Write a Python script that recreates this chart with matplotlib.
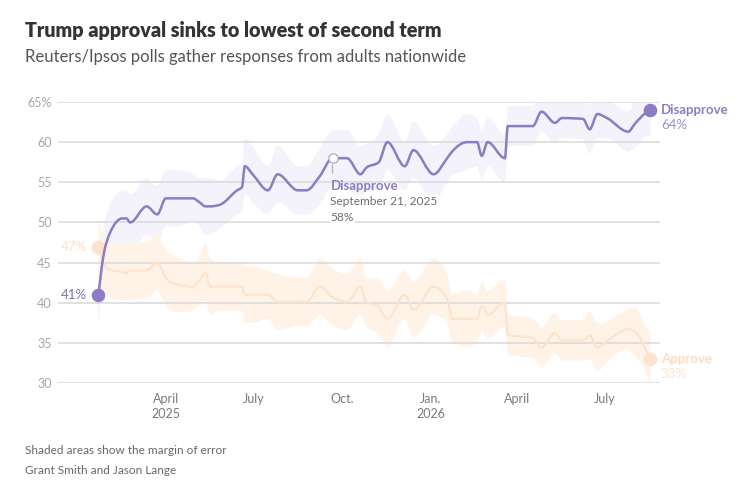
import matplotlib
matplotlib.use("Agg")
import matplotlib.pyplot as plt
import matplotlib.dates as mdates
from matplotlib.path import Path
from matplotlib.patches import PathPatch
import numpy as np
import pandas as pd

plt.rcParams['font.family'] = ['Lato', 'DejaVu Sans']

# Reuters/Ipsos poll end dates and results
poll_dates = [
    "2025-01-21", "2025-01-26", "2025-02-02", "2025-02-15", "2025-02-19",
    "2025-02-23", "2025-03-12", "2025-03-23", "2025-04-01", "2025-04-12",
    "2025-04-29", "2025-05-06", "2025-05-12", "2025-05-17", "2025-05-27",
    "2025-06-14", "2025-06-19", "2025-06-22", "2025-06-30", "2025-07-16",
    "2025-07-26", "2025-08-16", "2025-08-25", "2025-09-08", "2025-09-21",
    "2025-10-06", "2025-10-20", "2025-10-26", "2025-11-08", "2025-11-17",
    "2025-12-05", "2025-12-14", "2026-01-04", "2026-01-18", "2026-01-23",
    "2026-02-08", "2026-02-18", "2026-02-23", "2026-03-01", "2026-03-19",
    "2026-03-22", "2026-04-17", "2026-04-26", "2026-05-10", "2026-05-17",
    "2026-06-08", "2026-06-15", "2026-06-23", "2026-07-03", "2026-07-25",
    "2026-08-01", "2026-08-14", "2026-08-17",
]
disapprove = [
    41, 45.7, 48.7, 50.5, 50.5, 50, 52, 51, 53, 53,
    53, 52.5, 52, 52, 52.2, 54, 54.4, 57, 56, 54,
    56, 54, 54, 55.8, 58, 58, 56, 56.8, 57.5, 60,
    57, 59, 56, 58, 58.8, 60, 60, 58.3, 60, 58,
    62, 62, 63.8, 62.4, 63, 62.9, 61.6, 63.5, 63, 61.3,
    62.3, 63.8, 64,
]
approve = [
    47, 45, 44.1, 43.8, 43.7, 44, 44, 45, 43.1, 42.3,
    42, 42.8, 43.8, 42, 42, 42, 42, 41, 41, 41,
    40.1, 40.1, 40.1, 42, 40.7, 40.1, 42, 40.1, 39.5, 38,
    41, 39.1, 42, 40.5, 38, 38, 38, 39.6, 38.5, 40,
    36, 35.6, 34.4, 36.2, 35.3, 35.3, 35.9, 34.4, 35.2, 36.7,
    36.4, 33.7, 33,
]
# margin of error (percentage points) for each poll
margin = [
    3.5, 3.5, 3.5, 3.5, 3.5, 3.5, 3.5, 3.5, 3.5, 3.5,
    3.0, 3.0, 3.5, 3.5, 3.0, 3.0, 3.0, 3.5, 3.5, 3.0,
    3.5, 3.0, 3.0, 3.5, 3.5, 3.5, 3.5, 3.0, 3.5, 3.5,
    3.0, 3.5, 3.5, 3.0, 3.0, 3.5, 3.0, 3.0, 3.0, 3.0,
    2.5, 2.5, 2.5, 2.5, 2.5, 2.5, 3.0, 3.0, 2.5, 2.5,
    3.0, 3.0, 3.5,
]

y_ticks = [30, 35, 40, 45, 50, 55, 60, 65]
y_labels = ["30", "35", "40", "45", "50", "55", "60", "65%"]
x_ticks = ["2025-04-01", "2025-07-01", "2025-10-01", "2026-01-01", "2026-04-01", "2026-07-01"]
x_labels = ["April\n2025", "July", "Oct.", "Jan.\n2026", "April", "July"]

PURPLE = "#8d7cc3"
PURPLE_BAND = "#f4f2fa"
ORANGE = "#fde2cc"
ORANGE_BAND = "#fff2e7"
GRID = "#d9d9d9"


def monotone_path(x, y):
    """Bezier path through the points, monotone in x (like d3.curveMonotoneX)."""
    x = np.asarray(x, float)
    y = np.asarray(y, float)
    n = len(x)
    h = np.diff(x)
    s = np.diff(y) / h
    t = np.zeros(n)
    for k in range(1, n - 1):
        p = (s[k - 1] * h[k] + s[k] * h[k - 1]) / (h[k - 1] + h[k])
        t[k] = (np.sign(s[k - 1]) + np.sign(s[k])) * min(abs(s[k - 1]), abs(s[k]), 0.5 * abs(p))
    t[0] = (3 * s[0] - t[1]) / 2
    t[-1] = (3 * s[-1] - t[-2]) / 2
    verts = [(x[0], y[0])]
    codes = [Path.MOVETO]
    for k in range(n - 1):
        dx = h[k] / 3
        verts += [(x[k] + dx, y[k] + dx * t[k]), (x[k + 1] - dx, y[k + 1] - dx * t[k + 1]),
                  (x[k + 1], y[k + 1])]
        codes += [Path.CURVE4] * 3
    return verts, codes


def band_path(x, lo, hi):
    v1, c1 = monotone_path(x, hi)
    v2, c2 = monotone_path(x[::-1], lo[::-1])
    c2[0] = Path.LINETO
    return Path(v1 + v2 + [v1[0]], c1 + c2 + [Path.CLOSEPOLY])


dates = pd.to_datetime(poll_dates)
xn = mdates.date2num(dates)
d = np.array(disapprove)
a = np.array(approve)
m = np.array(margin)

W, H = 749, 492
fig = plt.figure(figsize=(W / 100, H / 100), dpi=100)
ax = fig.add_axes([58 / W, 1 - 383 / H, 602 / W, 281 / H])


def fx(x):
    return x / W


def fy(y):
    return 1 - y / H


ax.add_patch(PathPatch(band_path(xn, d - m, d + m), facecolor=PURPLE_BAND, lw=0, zorder=1))
ax.add_patch(PathPatch(band_path(xn, a - m, a + m), facecolor=ORANGE_BAND, lw=0, zorder=1.1))

for tk in y_ticks:
    ax.axhline(tk, color=GRID, lw=1.1, zorder=2)

va, ca = monotone_path(xn, a)
ax.add_patch(PathPatch(Path(va, ca), facecolor="none", edgecolor=ORANGE, lw=1.5, zorder=3))
vd, cd = monotone_path(xn, d)
ax.add_patch(PathPatch(Path(vd, cd), facecolor="none", edgecolor=PURPLE, lw=1.8, zorder=4))

# end and start dots
ax.scatter([xn[0], xn[-1]], [d[0], d[-1]], s=95, color=PURPLE, zorder=5, lw=0)
ax.scatter([xn[0], xn[-1]], [a[0], a[-1]], s=95, color=ORANGE, zorder=3.5, lw=0)

ax.set_xlim(mdates.date2num(pd.Timestamp("2024-12-10")), mdates.date2num(pd.Timestamp("2026-08-27")))
ax.set_ylim(30, 65)
ax.set_yticks(y_ticks)
ax.set_yticklabels(y_labels)
ax.set_xticks(mdates.date2num(pd.to_datetime(x_ticks)))
ax.set_xticklabels(x_labels, linespacing=1.3)
ax.tick_params(axis="y", length=0, pad=4.5, labelsize=9, labelcolor="#a6a6a6")
ax.tick_params(axis="x", length=0, pad=7, labelsize=9, labelcolor="#7a7a7a")
for sp in ax.spines.values():
    sp.set_visible(False)

# start labels
ax.annotate("41%", (xn[0], d[0]), xytext=(-8.5, 0), textcoords="offset points",
            ha="right", va="center", fontsize=9.5, color="#7d72a8")
ax.annotate("47%", (xn[0], a[0]), xytext=(-8.5, 0), textcoords="offset points",
            ha="right", va="center", fontsize=9.5, color="#fbe0ca")

# end labels
ax.annotate("Disapprove", (xn[-1], d[-1]), xytext=(7.5, 0), textcoords="offset points",
            ha="left", va="center", fontsize=9.5, fontweight="bold", color=PURPLE)
ax.annotate("64%", (xn[-1], d[-1]), xytext=(7.5, -11), textcoords="offset points",
            ha="left", va="center", fontsize=9.5, color="#9c90c8")
ax.annotate("Approve", (xn[-1], a[-1]), xytext=(7.5, 0), textcoords="offset points",
            ha="left", va="center", fontsize=9.5, fontweight="bold", color="#fbdcc3")
ax.annotate("33%", (xn[-1], a[-1]), xytext=(7.5, -11), textcoords="offset points",
            ha="left", va="center", fontsize=9.5, color="#fde5d2")

# callout on Sept. 21, 2025
i = poll_dates.index("2025-09-21")
ax.scatter([xn[i]], [d[i]], s=45, facecolor="white", edgecolor="#b5b5b5", lw=1.0, zorder=6)
ax.annotate("", (xn[i], d[i] - 0.5), xytext=(xn[i], d[i] - 2.2),
            arrowprops=dict(arrowstyle="-", color="#b5b5b5", lw=1.0), zorder=6)
bb = dict(facecolor="white", edgecolor="none", pad=0.5)
ax.annotate("Disapprove", (xn[i], d[i]), xytext=(-1.5, -20), textcoords="offset points",
            ha="left", va="center", fontsize=9.5, fontweight="bold", color=PURPLE, zorder=7)
ax.annotate("September 21, 2025", (xn[i], d[i]), xytext=(-1.5, -31), textcoords="offset points",
            ha="left", va="center", fontsize=8.6, color="#6e6e6e", bbox=bb, zorder=7)
ax.annotate("58%", (xn[i], d[i]), xytext=(-1.5, -42.5), textcoords="offset points",
            ha="left", va="center", fontsize=8.6, color="#6e6e6e", bbox=bb, zorder=7)

fig.text(fx(25), fy(31), "Trump approval sinks to lowest of second term",
         fontsize=14.2, fontweight="heavy", color="#333333", va="center")
fig.text(fx(25), fy(57), "Reuters/Ipsos polls gather responses from adults nationwide",
         fontsize=12, color="#555555", va="center")
fig.text(fx(25), fy(450), "Shaded areas show the margin of error",
         fontsize=8.5, color="#666666", va="center")
fig.text(fx(25), fy(470), "Grant Smith and Jason Lange",
         fontsize=8.5, color="#666666", va="center")

fig.savefig("out.png", dpi=100, facecolor="white")
